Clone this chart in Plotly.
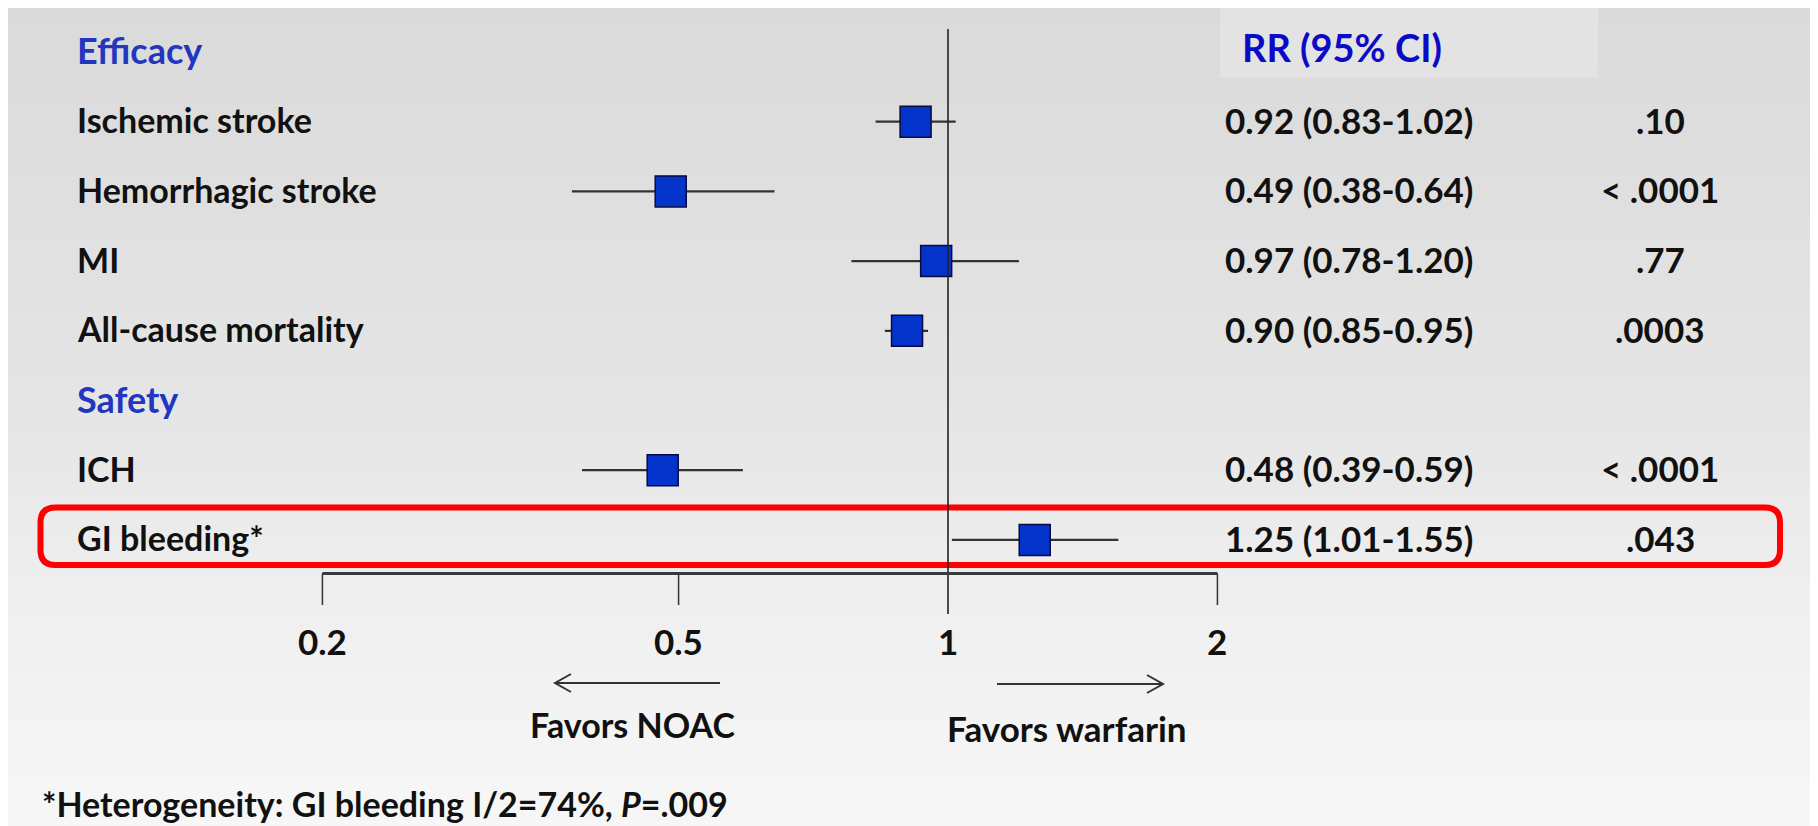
import math
import plotly.graph_objects as go

# ---------------- data ----------------
row_order = ["Efficacy", "Ischemic stroke", "Hemorrhagic stroke", "MI",
             "All-cause mortality", "Safety", "ICH", "GI bleeding*"]
section_headers = ["Efficacy", "Safety"]
outcomes = ["Ischemic stroke", "Hemorrhagic stroke", "MI",
            "All-cause mortality", "ICH", "GI bleeding*"]
rr = [0.92, 0.49, 0.97, 0.90, 0.48, 1.25]
ci_lo = [0.83, 0.38, 0.78, 0.85, 0.39, 1.01]
ci_hi = [1.02, 0.64, 1.20, 0.95, 0.59, 1.55]
p_values = [".10", "< .0001", ".77", ".0003", "< .0001", ".043"]
tick_vals = [0.2, 0.5, 1, 2]
tick_text = ["0.2", "0.5", "1", "2"]
header_rr = "RR (95% CI)"
favors_left = "Favors NOAC"
favors_right = "Favors warfarin"
footnote = "*Heterogeneity: GI bleeding I/2=74%, <i>P</i>=.009"

# ---------------- layout helpers (screen pixels -> paper) ----------------
W, H = 1818, 826
OFF = 8  # page body margin
PX_PER_DECADE = 895


def fx(px):
    return (px - OFF) / W


def fy(py):
    return 1 - (py - OFF) / H


FONT = "Lato"
TXT = "#111111"
BLUE_H = "#2236bf"
BLUE_RR = "#0a0ac8"

row_y = {name: i for i, name in enumerate(row_order)}
y_out = [row_y[o] for o in outcomes]

fig = go.Figure()

# background gradient bands
stops = [(0, (218, 218, 218)), (200, (223, 223, 223)), (420, (230, 230, 230)),
         (620, (240, 240, 240)), (830, (247, 247, 247))]
shapes = []
nb = 60
for k in range(nb):
    y0 = OFF + H * k / nb
    y1 = OFF + H * (k + 1) / nb
    ym = (y0 + y1) / 2
    c = list(stops[-1][1])
    for j in range(len(stops) - 1):
        if stops[j][0] <= ym <= stops[j + 1][0]:
            t = (ym - stops[j][0]) / (stops[j + 1][0] - stops[j][0])
            c = [round(stops[j][1][m] + t * (stops[j + 1][1][m] - stops[j][1][m])) for m in range(3)]
            break
    shapes.append(dict(type="rect", xref="paper", yref="paper", x0=0, x1=1,
                       y0=fy(y1 + 0.5), y1=fy(y0), line=dict(width=0),
                       fillcolor=f"rgb({c[0]},{c[1]},{c[2]})", layer="below"))

# header box
shapes.append(dict(type="rect", xref="paper", yref="paper", x0=fx(1220), x1=fx(1598),
                   y0=fy(78), y1=fy(8), line=dict(width=0), fillcolor="#e3e3e3", layer="below"))

# red rounded highlight box
x0, x1, y0, y1, r = 40.5, 1780, 507.5, 565, 15
p = (f"M {fx(x0 + r)},{fy(y0)} L {fx(x1 - r)},{fy(y0)} Q {fx(x1)},{fy(y0)} {fx(x1)},{fy(y0 + r)} "
     f"L {fx(x1)},{fy(y1 - r)} Q {fx(x1)},{fy(y1)} {fx(x1 - r)},{fy(y1)} "
     f"L {fx(x0 + r)},{fy(y1)} Q {fx(x0)},{fy(y1)} {fx(x0)},{fy(y1 - r)} "
     f"L {fx(x0)},{fy(y0 + r)} Q {fx(x0)},{fy(y0)} {fx(x0 + r)},{fy(y0)} Z")
shapes.append(dict(type="path", xref="paper", yref="paper", path=p,
                   line=dict(color="#ff0000", width=6)))

# vertical reference line at RR = 1
shapes.append(dict(type="line", xref="x", yref="paper", x0=1, x1=1, y0=fy(614), y1=fy(29),
                   line=dict(color="#222222", width=1.6)))
# horizontal axis line
AXIS_Y = 573.5
shapes.append(dict(type="line", xref="x", yref="paper", x0=tick_vals[0], x1=tick_vals[-1],
                   y0=fy(AXIS_Y), y1=fy(AXIS_Y), line=dict(color="#3a3a3a", width=2.8)))
for tv in tick_vals:
    if tv == 1:
        continue
    shapes.append(dict(type="line", xref="x", yref="paper", x0=tv, x1=tv,
                       y0=fy(605), y1=fy(AXIS_Y), line=dict(color="#333333", width=1.5)))


# arrows (line + open chevron)
def arrow(xa, xb, y, direction):
    s = [dict(type="line", xref="paper", yref="paper", x0=fx(xa), x1=fx(xb), y0=fy(y), y1=fy(y),
              line=dict(color="#333333", width=2.2))]
    tip = xa if direction < 0 else xb
    d = 16 * (-direction)
    s.append(dict(type="path", xref="paper", yref="paper",
                  path=f"M {fx(tip + d)},{fy(y - 9)} L {fx(tip)},{fy(y)} L {fx(tip + d)},{fy(y + 9)}",
                  line=dict(color="#333333", width=2)))
    return s


shapes += arrow(555, 720, 683, -1)
shapes += arrow(997, 1163, 684, 1)

# markers with CI whiskers
fig.add_trace(go.Scatter(
    x=rr, y=y_out, mode="markers",
    marker=dict(symbol="square", size=31, color="#0433cc",
                line=dict(color="#0a0a40", width=1.5)),
    error_x=dict(type="data", symmetric=False,
                 array=[h - v for h, v in zip(ci_hi, rr)],
                 arrayminus=[v - l for v, l in zip(rr, ci_lo)],
                 width=0, thickness=2.2, color="#333333"),
    hoverinfo="skip", showlegend=False))

ann = []
for name in row_order:
    is_head = name in section_headers
    ann.append(dict(xref="paper", yref="y", x=fx(75), y=row_y[name], text=name,
                    xanchor="left", yanchor="middle", showarrow=False, yshift=2,
                    font=dict(family=FONT, size=36 if is_head else 34, weight=700,
                              color=BLUE_H if is_head else TXT)))
for o, v, lo, hi, pv in zip(outcomes, rr, ci_lo, ci_hi, p_values):
    ann.append(dict(xref="paper", yref="y", x=fx(1223), y=row_y[o],
                    text=f"{v:.2f} ({lo:.2f}-{hi:.2f})", xanchor="left", yanchor="middle",
                    showarrow=False, yshift=2,
                    font=dict(family=FONT, size=35, weight=700, color=TXT)))
    ann.append(dict(xref="paper", yref="y", x=fx(1660), y=row_y[o], text=pv,
                    xanchor="center", yanchor="middle", showarrow=False, yshift=2,
                    font=dict(family=FONT, size=35, weight=700, color=TXT)))

ann.append(dict(xref="paper", yref="paper", x=fx(1240), y=fy(47), text=header_rr,
                xanchor="left", yanchor="middle", showarrow=False,
                font=dict(family=FONT, size=38, weight=700, color=BLUE_RR)))

# tick labels (annotation x on a log axis is given in log10 units)
for tv, tt in zip(tick_vals, tick_text):
    ann.append(dict(xref="x", yref="paper", x=math.log10(tv), y=fy(641), text=tt,
                    xanchor="center", yanchor="middle", showarrow=False,
                    font=dict(family=FONT, size=35, weight=700, color=TXT)))

ann.append(dict(xref="paper", yref="paper", x=fx(632), y=fy(724), text=favors_left,
                xanchor="center", yanchor="middle", showarrow=False,
                font=dict(family=FONT, size=34, weight=700, color=TXT)))
ann.append(dict(xref="paper", yref="paper", x=fx(1067), y=fy(728), text=favors_right,
                xanchor="center", yanchor="middle", showarrow=False,
                font=dict(family=FONT, size=35, weight=700, color=TXT)))
ann.append(dict(xref="paper", yref="paper", x=fx(40), y=fy(803), text=footnote,
                xanchor="left", yanchor="middle", showarrow=False,
                font=dict(family=FONT, size=34, weight=700, color=TXT)))

# axes: pixel mapping  screen_x = 948 + PX_PER_DECADE*log10(x); screen_y = 52 + 69.7*row
xr0 = -(948 - OFF) / PX_PER_DECADE
xr1 = (W + OFF - 948) / PX_PER_DECADE
yr_top = -(52 - OFF) / 69.7
yr_bot = (H + OFF - 52) / 69.7

fig.update_layout(
    width=W, height=H, margin=dict(l=0, r=0, t=0, b=0),
    paper_bgcolor="#e6e6e6", plot_bgcolor="rgba(0,0,0,0)",
    xaxis=dict(type="log", range=[xr0, xr1], visible=False, domain=[0, 1]),
    yaxis=dict(range=[yr_bot, yr_top], visible=False, domain=[0, 1]),
    shapes=shapes, annotations=ann,
)

fig.write_html("out.html")
